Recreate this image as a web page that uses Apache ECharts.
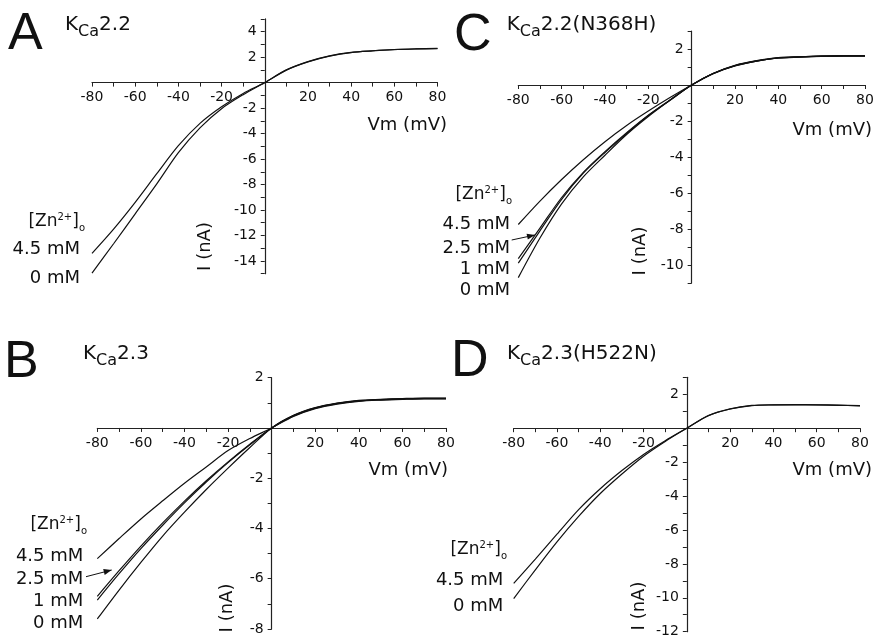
<!DOCTYPE html>
<html><head><meta charset="utf-8">
<script src="https://cdn.jsdelivr.net/npm/echarts@6/dist/echarts.min.js"></script>
<style>html,body{margin:0;padding:0;background:#fff}#c{width:873px;height:635px}</style>
</head><body><div id="c"></div>
<script>
// ---- data (membrane voltage in mV, current in nA) ----
const voltage = [-80,-70,-60,-50,-40,-30,-20,-10,0,10,20,30,40,50,60,70,80];

const A_0mM   = [-14.95,-12.65,-10.3,-7.95,-5.5,-3.55,-2.05,-0.95,0,1.0,1.65,2.1,2.37,2.5,2.6,2.65,2.68];
const A_4_5mM = [-13.4,-11.5,-9.4,-7.15,-4.95,-3.2,-1.9,-0.85,0,0.98,1.63,2.08,2.36,2.49,2.59,2.64,2.67];

const C_0mM   = [-10.7,-8.5,-6.6,-5.1,-3.9,-2.75,-1.75,-0.85,0,0.65,1.09,1.35,1.52,1.57,1.61,1.63,1.63];
const C_1mM   = [-9.9,-8.1,-6.35,-4.9,-3.75,-2.7,-1.7,-0.85,0,0.64,1.08,1.34,1.51,1.56,1.6,1.62,1.62];
const C_2_5mM = [-9.65,-7.95,-6.25,-4.85,-3.7,-2.65,-1.68,-0.83,0,0.64,1.07,1.33,1.5,1.56,1.6,1.61,1.62];
const C_4_5mM = [-7.75,-6.45,-5.25,-4.15,-3.15,-2.25,-1.45,-0.7,0,0.63,1.06,1.33,1.5,1.55,1.59,1.61,1.6];

const B_0mM   = [-7.6,-6.45,-5.35,-4.3,-3.35,-2.45,-1.6,-0.78,0,0.5,0.81,0.99,1.1,1.14,1.17,1.19,1.19];
const B_1mM   = [-6.85,-5.8,-4.8,-3.87,-2.98,-2.15,-1.38,-0.67,0,0.49,0.8,0.98,1.09,1.13,1.16,1.18,1.18];
const B_2_5mM = [-6.7,-5.68,-4.7,-3.78,-2.91,-2.1,-1.35,-0.65,0,0.48,0.79,0.97,1.08,1.12,1.15,1.17,1.17];
const B_4_5mM = [-5.2,-4.4,-3.62,-2.9,-2.2,-1.55,-0.9,-0.42,0,0.46,0.77,0.95,1.06,1.11,1.14,1.16,1.16];

const D_0mM   = [-10.05,-8.35,-6.7,-5.2,-3.85,-2.7,-1.65,-0.78,0,0.75,1.14,1.34,1.38,1.39,1.38,1.36,1.33];
const D_4_5mM = [-9.15,-7.72,-6.25,-4.8,-3.57,-2.5,-1.55,-0.74,0,0.74,1.13,1.33,1.37,1.38,1.37,1.35,1.32];

const xLabelValues = [-80,-60,-40,-20,20,40,60,80];
const concLabelsA = ['4.5 mM','0 mM'];
const concLabelsC = ['4.5 mM','2.5 mM','1 mM','0 mM'];
const concLabelsB = ['4.5 mM','2.5 mM','1 mM','0 mM'];
const concLabelsD = ['4.5 mM','0 mM'];

// ---- helpers ----
const FONT = '"DejaVu Sans"';
const INK = '#111';
const AX = '#222';
const ctx = document.createElement('canvas').getContext('2d');
function tw(t, f){ ctx.font = f; return ctx.measureText(t).width; }

function pts(vals){ return voltage.map((v,i)=>[v, vals[i]]); }

const grids = [
  {left:92,    top:18.9,  width:345.5, height:254.8},  // A
  {left:518.3, top:31,    width:346.7, height:252},    // C
  {left:97.3,  top:377.7, width:348.7, height:251.3},  // B
  {left:513.7, top:377.3, width:346.3, height:254.4}   // D
];

function axes(gi, ymin, ymax){
  const g = grids[gi];
  const line = {onZero:false, lineStyle:{color:AX, width:1.2}};
  const tick = {show:true, length:4, lineStyle:{color:AX, width:1}};
  // place the axes through the origin (0 mV, 0 nA)
  const xOff = -g.height * (0 - ymin) / (ymax - ymin);
  const yOff = -g.width * (0 - (-80)) / 160;
  return {
    x: {gridIndex:gi, type:'value', min:-80, max:80, interval:10, position:'bottom', offset:xOff,
        axisLine:line, axisTick:tick, splitLine:{show:false},
        axisLabel:{formatter:v => xLabelValues.indexOf(v)>=0 ? String(v) : '',
                   fontFamily:FONT, fontSize:14, color:INK, margin:8,
                   showMinLabel:true, showMaxLabel:true}},
    y: {gridIndex:gi, type:'value', min:ymin, max:ymax, interval:1, position:'left', offset:yOff,
        axisLine:line, axisTick:tick, splitLine:{show:false},
        axisLabel:{formatter:v => (v%2===0 && v!==0) ? String(v) : '',
                   fontFamily:FONT, fontSize:14, color:INK, margin:8,
                   showMinLabel:true, showMaxLabel:true}}
  };
}

const axA = axes(0,-15,5), axC = axes(1,-11,3), axB = axes(2,-8,2), axD = axes(3,-12,3);

function ser(gi, name, vals){
  return {type:'line', name, xAxisIndex:gi, yAxisIndex:gi, data:pts(vals),
          showSymbol:false, symbol:'none', smooth:0.3, animation:false, silent:true,
          lineStyle:{color:INK, width:1.2}};
}

const series = [
  ser(0,'A 0 mM',A_0mM), ser(0,'A 4.5 mM',A_4_5mM),
  ser(1,'C 0 mM',C_0mM), ser(1,'C 1 mM',C_1mM), ser(1,'C 2.5 mM',C_2_5mM), ser(1,'C 4.5 mM',C_4_5mM),
  ser(2,'B 0 mM',B_0mM), ser(2,'B 1 mM',B_1mM), ser(2,'B 2.5 mM',B_2_5mM), ser(2,'B 4.5 mM',B_4_5mM),
  ser(3,'D 0 mM',D_0mM), ser(3,'D 4.5 mM',D_4_5mM)
];

// ---- text annotations ----
const G = [];
function txt(t, x, baseline, size, family, align){
  const f = size + 'px ' + (family || FONT);
  G.push({type:'text', silent:true, z:10,
          style:{text:t, x:x, y:baseline - 0.3*size, font:f, fill:INK,
                 textAlign:align||'left', textVerticalAlign:'middle'}});
}
// parts: [text, size, baselineShift]
function rich(x, baseline, parts, align){
  const w = parts.map(p => tw(p[0], p[1] + 'px ' + FONT));
  const total = w.reduce((a,b)=>a+b,0);
  let cx = align === 'right' ? x - total : x;
  parts.forEach((p,i)=>{ txt(p[0], cx, baseline + (p[2]||0), p[1]); cx += w[i]; });
}
function title(x, baseline, rest){
  rich(x, baseline, [['K',20,0],['Ca',16,6],[rest,20,0]]);
}
function zn(rightX, baseline){
  rich(rightX, baseline, [['[Zn',17,0],['2+',10,-7],[']',17,0],['o',10,4]], 'right');
}
function vm(rightX, cy){
  G.push({type:'text', silent:true, style:{text:'Vm (mV)', x:rightX, y:cy, font:'18px '+FONT, fill:INK,
          textAlign:'right', textVerticalAlign:'middle'}});
}
function inA(cx, cy){
  G.push({type:'text', silent:true, x:cx, y:cy, rotation:Math.PI/2,
          style:{text:'I (nA)', x:0, y:0, font:'18px '+FONT, fill:INK, textAlign:'center', textVerticalAlign:'middle'}});
}
function arrow(x1,y1,x2,y2){
  G.push({type:'line', silent:true, shape:{x1,y1,x2,y2}, style:{stroke:INK, lineWidth:1}});
  const dx=x2-x1, dy=y2-y1, L=Math.hypot(dx,dy), ux=dx/L, uy=dy/L, nx=-uy, ny=ux;
  const bx=x2-8*ux, by=y2-8*uy;
  G.push({type:'polygon', silent:true, shape:{points:[[x2,y2],[bx+3*nx,by+3*ny],[bx-3*nx,by-3*ny]]},
          style:{fill:INK}});
}

// panel letters
txt('A', 8, 50, 52, '"Liberation Sans"');
txt('C', 454, 51, 52, '"Liberation Sans"');
txt('B', 4, 378, 52, '"Liberation Sans"');
txt('D', 451, 377, 52, '"Liberation Sans"');

// titles
title(65, 30.7, '2.2');
title(506.7, 30.7, '2.2(N368H)');
title(83, 360, '2.3');
title(507, 360, '2.3(H522N)');

// axis names
vm(447, 125); vm(872, 130.5); vm(448, 470.5); vm(872, 470.5);
inA(205, 246.5); inA(640, 251); inA(227, 608); inA(639, 606);

// concentration labels
zn(85, 227);
concLabelsA.forEach((t,i)=> txt(t, 80, [255, 283.3][i], 18, null, 'right'));
zn(512, 200);
concLabelsC.forEach((t,i)=> txt(t, 510, [229.5, 253.5, 274.5, 295.5][i], 18, null, 'right'));
zn(87, 530);
concLabelsB.forEach((t,i)=> txt(t, 83.3, [561.7, 585, 606.7, 628.3][i], 18, null, 'right'));
zn(507, 555);
concLabelsD.forEach((t,i)=> txt(t, 503.3, [585.5, 611.7][i], 18, null, 'right'));

arrow(511.7, 240, 535, 235);
arrow(86, 576.7, 111.7, 570);

const chart = echarts.init(document.getElementById('c'), null, {renderer:'canvas'});
chart.setOption({
  backgroundColor:'#fff',
  animation:false,
  grid: grids.map(g => Object.assign({containLabel:false, outerBoundsMode:'none'}, g)),
  xAxis: [axA.x, axC.x, axB.x, axD.x],
  yAxis: [axA.y, axC.y, axB.y, axD.y],
  series: series,
  graphic: {elements: G}
});
</script></body></html>
